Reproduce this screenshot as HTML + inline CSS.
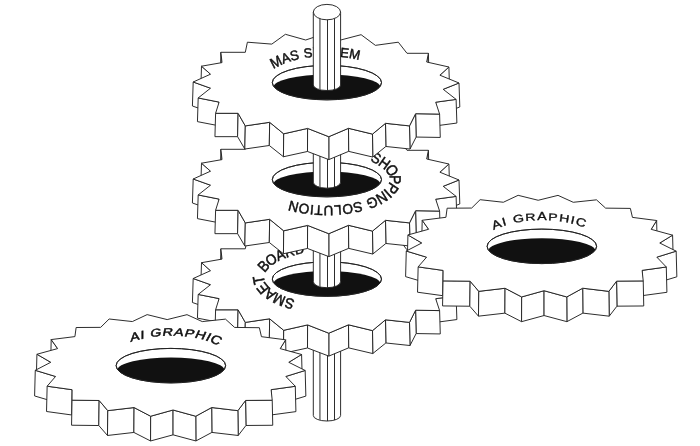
<!DOCTYPE html>
<html><head><meta charset="utf-8"><title>Gears</title>
<style>html,body{margin:0;padding:0;background:#fff;}body{width:700px;height:446px;overflow:hidden;font-family:"Liberation Sans",sans-serif;}svg{display:block;}</style>
</head><body>
<svg width="700" height="446" viewBox="0 0 700 446" fill="#fff" stroke="#222" stroke-width="0.95" stroke-linejoin="miter" stroke-miterlimit="4">
<path d="M 313.30 300.00 L 313.30 415.50 A 13.65 5.50 0 0 0 340.60 415.50 L 340.60 300.00 Z"/>
<line x1="319.91" y1="300.00" x2="319.91" y2="420.21" stroke="#777" stroke-width="1.6"/>
<line x1="327.50" y1="300.00" x2="327.50" y2="421.00"/>
<line x1="334.51" y1="300.00" x2="334.51" y2="420.08"/>
<polygon points="222.00,259.10 220.90,248.80 220.27,273.39 221.38,283.48"/>
<polygon points="428.40,249.80 426.70,258.50 427.31,282.90 429.02,274.37"/>
<polygon points="210.50,270.70 201.50,262.70 200.76,287.01 209.81,294.85"/>
<polygon points="448.90,263.50 439.90,271.70 440.59,295.83 449.64,287.80"/>
<polygon points="210.50,284.70 193.20,278.50 192.41,302.50 209.81,308.57"/>
<polygon points="459.00,279.50 443.20,285.80 443.91,309.65 459.80,303.48"/>
<polygon points="219.10,298.60 198.20,294.45 197.44,318.13 218.46,322.19"/>
<polygon points="456.10,295.90 435.70,298.70 436.36,322.29 456.88,319.55"/>
<polygon points="238.10,309.80 215.60,309.80 214.94,333.17 237.58,333.17"/>
<polygon points="439.60,310.60 415.60,310.20 416.14,333.56 440.28,333.95"/>
<polygon points="245.30,322.40 238.10,309.80 237.58,333.17 244.82,345.52"/>
<polygon points="415.60,310.20 409.50,322.40 410.00,345.52 416.14,333.56"/>
<polygon points="269.65,318.80 245.30,322.40 244.82,345.52 269.31,341.99"/>
<polygon points="409.50,322.40 385.50,319.80 385.86,342.97 410.00,345.52"/>
<polygon points="283.70,330.30 269.65,318.80 269.31,341.99 283.45,353.26"/>
<polygon points="385.50,319.80 372.50,330.60 372.78,353.55 385.86,342.97"/>
<polygon points="307.60,324.90 283.70,330.30 283.45,353.26 307.49,347.97"/>
<polygon points="372.50,330.60 348.50,324.80 348.64,347.87 372.78,353.55"/>
<polygon points="348.50,324.80 328.80,333.20 328.82,356.10 348.64,347.87"/>
<polygon points="328.80,333.20 307.60,324.90 307.49,347.97 328.82,356.10"/>
<polygon points="328.80,333.20 307.60,324.90 283.70,330.30 269.65,318.80 245.30,322.40 238.10,309.80 215.60,309.80 219.10,298.60 198.20,294.45 210.50,284.70 193.20,278.50 210.50,270.70 201.50,262.70 222.00,259.10 220.90,248.80 245.30,248.80 247.40,238.70 271.80,240.60 285.40,230.80 305.70,236.50 323.10,230.70 341.10,236.40 361.10,231.20 375.40,241.85 398.30,238.70 407.00,249.80 428.40,249.80 426.70,258.50 448.90,263.50 439.90,271.70 459.00,279.50 443.20,285.80 456.10,295.90 435.70,298.70 439.60,310.60 415.60,310.20 409.50,322.40 385.50,319.80 372.50,330.60 348.50,324.80"/>
<ellipse cx="326.90" cy="279.09" rx="54.60" ry="17.25"/>
<clipPath id="c3"><ellipse cx="326.90" cy="279.09" rx="54.60" ry="17.25"/></clipPath>
<ellipse cx="326.90" cy="283.64" rx="53.50" ry="12.70" fill="#111" stroke="none" clip-path="url(#c3)"/>
<ellipse cx="326.90" cy="279.09" rx="54.60" ry="17.25" fill="none"/>
<g style="filter:grayscale(1)">
<text y="4.65" transform="translate(289.37,303.61) rotate(-163.44) skewX(0.00) scale(1.051,1.108)" text-anchor="middle" font-family="Liberation Sans, sans-serif" font-size="13.00" fill="#111" stroke="#111" stroke-width="0.45">S</text>
<text y="4.65" transform="translate(279.20,299.91) rotate(-156.23) skewX(0.00) scale(1.058,1.143)" text-anchor="middle" font-family="Liberation Sans, sans-serif" font-size="13.00" fill="#111" stroke="#111" stroke-width="0.45">M</text>
<text y="4.65" transform="translate(269.76,294.75) rotate(-145.53) skewX(0.00) scale(1.064,1.181)" text-anchor="middle" font-family="Liberation Sans, sans-serif" font-size="13.00" fill="#111" stroke="#111" stroke-width="0.45">A</text>
<text y="4.65" transform="translate(262.64,288.37) rotate(-129.13) skewX(0.00) scale(1.067,1.211)" text-anchor="middle" font-family="Liberation Sans, sans-serif" font-size="13.00" fill="#111" stroke="#111" stroke-width="0.45">E</text>
<text y="4.65" transform="translate(258.65,280.25) rotate(-100.75) skewX(0.00) scale(1.063,1.223)" text-anchor="middle" font-family="Liberation Sans, sans-serif" font-size="13.00" fill="#111" stroke="#111" stroke-width="0.45">T</text>
<text y="4.65" transform="translate(263.37,265.96) rotate(-48.37) skewX(0.00) scale(1.052,1.189)" text-anchor="middle" font-family="Liberation Sans, sans-serif" font-size="13.00" fill="#111" stroke="#111" stroke-width="0.45">B</text>
<text y="4.65" transform="translate(271.16,259.52) rotate(-32.45) skewX(0.00) scale(1.040,1.146)" text-anchor="middle" font-family="Liberation Sans, sans-serif" font-size="13.00" fill="#111" stroke="#111" stroke-width="0.45">O</text>
<text y="4.65" transform="translate(280.15,254.86) rotate(-22.96) skewX(0.00) scale(1.028,1.102)" text-anchor="middle" font-family="Liberation Sans, sans-serif" font-size="13.00" fill="#111" stroke="#111" stroke-width="0.45">A</text>
<text y="4.65" transform="translate(289.36,251.58) rotate(-16.56) skewX(0.00) scale(1.018,1.066)" text-anchor="middle" font-family="Liberation Sans, sans-serif" font-size="13.00" fill="#111" stroke="#111" stroke-width="0.45">R</text>
<text y="4.65" transform="translate(299.20,249.15) rotate(-11.36) skewX(0.00) scale(1.010,1.036)" text-anchor="middle" font-family="Liberation Sans, sans-serif" font-size="13.00" fill="#111" stroke="#111" stroke-width="0.45">D</text>
</g>

<path d="M 313.30 200.00 L 313.30 281.70 A 13.65 6.00 0 0 0 340.60 281.70 L 340.60 200.00 Z"/>
<line x1="319.91" y1="200.00" x2="319.91" y2="286.84" stroke="#777" stroke-width="1.6"/>
<line x1="327.50" y1="200.00" x2="327.50" y2="287.70"/>
<line x1="334.51" y1="200.00" x2="334.51" y2="286.70"/>
<polygon points="57.61,348.58 51.20,339.57 50.61,365.83 57.05,374.65"/>
<polygon points="285.64,339.80 280.20,348.63 280.75,374.71 286.21,366.05"/>
<polygon points="50.76,362.29 36.93,354.26 36.26,380.22 50.16,388.09"/>
<polygon points="301.59,354.47 288.78,362.31 289.38,388.11 302.25,380.42"/>
<polygon points="55.56,376.48 35.28,370.32 34.60,395.95 54.99,402.00"/>
<polygon points="305.17,370.47 285.85,376.45 286.43,401.97 305.85,396.11"/>
<polygon points="72.11,389.71 47.15,386.19 46.53,411.51 71.62,414.96"/>
<polygon points="295.29,386.29 271.11,389.65 271.61,414.90 295.91,411.61"/>
<polygon points="272.22,400.22 245.58,400.43 245.96,425.47 272.74,425.27"/>
<polygon points="99.15,400.49 72.04,400.18 71.55,425.23 98.80,425.53"/>
<polygon points="245.58,400.43 237.88,410.65 238.22,435.48 245.96,425.47"/>
<polygon points="107.79,410.64 99.15,400.49 98.80,425.53 107.48,435.47"/>
<polygon points="237.88,410.65 211.68,407.51 211.89,432.41 238.22,435.48"/>
<polygon points="134.07,407.55 107.79,410.64 107.48,435.47 133.89,432.45"/>
<polygon points="211.68,407.51 195.78,416.23 195.91,440.96 211.89,432.41"/>
<polygon points="150.66,416.23 134.07,407.55 133.89,432.45 150.57,440.96"/>
<polygon points="173.06,409.99 150.66,416.23 150.57,440.96 173.07,434.84"/>
<polygon points="195.78,416.23 173.06,409.99 173.07,434.84 195.91,440.96"/>
<polygon points="150.66,416.23 134.07,407.55 107.79,410.64 99.15,400.49 72.04,400.18 72.11,389.71 47.15,386.19 55.56,376.48 35.28,370.32 50.76,362.29 36.93,354.26 57.61,348.58 51.20,339.57 74.91,336.60 76.14,327.51 100.66,327.36 109.12,318.99 132.35,321.55 147.14,314.62 167.19,319.58 187.00,314.67 202.25,321.59 225.48,319.13 234.61,327.43 259.37,327.71 261.45,336.68 285.64,339.80 280.20,348.63 301.59,354.47 288.78,362.31 305.17,370.47 285.85,376.45 295.29,386.29 271.11,389.65 272.22,400.22 245.58,400.43 237.88,410.65 211.68,407.51 195.78,416.23 173.06,409.99"/>
<ellipse cx="170.86" cy="365.65" rx="54.75" ry="17.25"/>
<clipPath id="c5"><ellipse cx="170.86" cy="365.65" rx="54.75" ry="17.25"/></clipPath>
<ellipse cx="170.86" cy="370.20" rx="53.60" ry="12.70" fill="#111" stroke="none" clip-path="url(#c5)"/>
<ellipse cx="170.86" cy="365.65" rx="54.75" ry="17.25" fill="none"/>
<g style="filter:grayscale(1)">
<text y="4.65" transform="translate(134.70,336.43) rotate(-15.77) skewX(-12.00) scale(1.102,0.908)" text-anchor="middle" font-family="Liberation Sans, sans-serif" font-size="13.00" fill="#111" stroke="#111" stroke-width="0.55">A</text>
<text y="4.65" transform="translate(142.35,334.57) rotate(-11.73) skewX(-12.00) scale(1.101,0.874)" text-anchor="middle" font-family="Liberation Sans, sans-serif" font-size="13.00" fill="#111" stroke="#111" stroke-width="0.55">I</text>
<text y="4.65" transform="translate(156.06,332.48) rotate(-5.74) skewX(-12.00) scale(1.100,0.834)" text-anchor="middle" font-family="Liberation Sans, sans-serif" font-size="13.00" fill="#111" stroke="#111" stroke-width="0.55">G</text>
<text y="4.65" transform="translate(167.95,331.78) rotate(-1.10) skewX(-12.00) scale(1.100,0.821)" text-anchor="middle" font-family="Liberation Sans, sans-serif" font-size="13.00" fill="#111" stroke="#111" stroke-width="0.55">R</text>
<text y="4.65" transform="translate(179.09,331.98) rotate(3.13) skewX(-12.00) scale(1.100,0.824)" text-anchor="middle" font-family="Liberation Sans, sans-serif" font-size="13.00" fill="#111" stroke="#111" stroke-width="0.55">A</text>
<text y="4.65" transform="translate(189.77,332.96) rotate(7.43) skewX(-12.00) scale(1.101,0.844)" text-anchor="middle" font-family="Liberation Sans, sans-serif" font-size="13.00" fill="#111" stroke="#111" stroke-width="0.55">P</text>
<text y="4.65" transform="translate(200.68,334.85) rotate(12.39) skewX(-12.00) scale(1.101,0.880)" text-anchor="middle" font-family="Liberation Sans, sans-serif" font-size="13.00" fill="#111" stroke="#111" stroke-width="0.55">H</text>
<text y="4.65" transform="translate(208.69,336.92) rotate(16.74) skewX(-12.00) scale(1.102,0.917)" text-anchor="middle" font-family="Liberation Sans, sans-serif" font-size="13.00" fill="#111" stroke="#111" stroke-width="0.55">I</text>
<text y="4.65" transform="translate(216.42,339.63) rotate(22.01) skewX(-12.00) scale(1.101,0.963)" text-anchor="middle" font-family="Liberation Sans, sans-serif" font-size="13.00" fill="#111" stroke="#111" stroke-width="0.55">C</text>
</g>

<polygon points="222.00,159.60 220.90,149.30 220.27,173.89 221.38,183.98"/>
<polygon points="428.40,150.30 426.70,159.00 427.31,183.40 429.02,174.87"/>
<polygon points="210.50,171.20 201.50,163.20 200.76,187.51 209.81,195.35"/>
<polygon points="448.90,164.00 439.90,172.20 440.59,196.33 449.64,188.30"/>
<polygon points="210.50,185.20 193.20,179.00 192.41,203.00 209.81,209.07"/>
<polygon points="459.00,180.00 443.20,186.30 443.91,210.15 459.80,203.98"/>
<polygon points="219.10,199.10 198.20,194.95 197.44,218.63 218.46,222.69"/>
<polygon points="456.10,196.40 435.70,199.20 436.36,222.79 456.88,220.05"/>
<polygon points="238.10,210.30 215.60,210.30 214.94,233.67 237.58,233.67"/>
<polygon points="439.60,211.10 415.60,210.70 416.14,234.06 440.28,234.45"/>
<polygon points="245.30,222.90 238.10,210.30 237.58,233.67 244.82,246.02"/>
<polygon points="415.60,210.70 409.50,222.90 410.00,246.02 416.14,234.06"/>
<polygon points="269.65,219.30 245.30,222.90 244.82,246.02 269.31,242.49"/>
<polygon points="409.50,222.90 385.50,220.30 385.86,243.47 410.00,246.02"/>
<polygon points="283.70,230.80 269.65,219.30 269.31,242.49 283.45,253.76"/>
<polygon points="385.50,220.30 372.50,231.10 372.78,254.05 385.86,243.47"/>
<polygon points="307.60,225.40 283.70,230.80 283.45,253.76 307.49,248.47"/>
<polygon points="372.50,231.10 348.50,225.30 348.64,248.37 372.78,254.05"/>
<polygon points="348.50,225.30 328.80,233.70 328.82,256.60 348.64,248.37"/>
<polygon points="328.80,233.70 307.60,225.40 307.49,248.47 328.82,256.60"/>
<polygon points="328.80,233.70 307.60,225.40 283.70,230.80 269.65,219.30 245.30,222.90 238.10,210.30 215.60,210.30 219.10,199.10 198.20,194.95 210.50,185.20 193.20,179.00 210.50,171.20 201.50,163.20 222.00,159.60 220.90,149.30 245.30,149.30 247.40,139.20 271.80,141.10 285.40,131.30 305.70,137.00 323.10,131.20 341.10,136.90 361.10,131.70 375.40,142.35 398.30,139.20 407.00,150.30 428.40,150.30 426.70,159.00 448.90,164.00 439.90,172.20 459.00,180.00 443.20,186.30 456.10,196.40 435.70,199.20 439.60,211.10 415.60,210.70 409.50,222.90 385.50,220.30 372.50,231.10 348.50,225.30"/>
<ellipse cx="326.90" cy="179.59" rx="54.60" ry="17.25"/>
<clipPath id="c2"><ellipse cx="326.90" cy="179.59" rx="54.60" ry="17.25"/></clipPath>
<ellipse cx="326.90" cy="184.14" rx="53.50" ry="12.70" fill="#111" stroke="none" clip-path="url(#c2)"/>
<ellipse cx="326.90" cy="179.59" rx="54.60" ry="17.25" fill="none"/>
<g style="filter:grayscale(1)">
<text y="4.65" transform="translate(376.26,158.03) rotate(25.28) skewX(0.00) scale(1.031,1.114)" text-anchor="middle" font-family="Liberation Sans, sans-serif" font-size="13.00" fill="#111" stroke="#111" stroke-width="0.45">S</text>
<text y="4.65" transform="translate(384.72,162.91) rotate(35.55) skewX(0.00) scale(1.043,1.157)" text-anchor="middle" font-family="Liberation Sans, sans-serif" font-size="13.00" fill="#111" stroke="#111" stroke-width="0.45">H</text>
<text y="4.65" transform="translate(392.21,170.20) rotate(55.10) skewX(0.00) scale(1.055,1.200)" text-anchor="middle" font-family="Liberation Sans, sans-serif" font-size="13.00" fill="#111" stroke="#111" stroke-width="0.45">O</text>
<text y="4.65" transform="translate(395.40,179.66) rotate(90.28) skewX(0.00) scale(1.060,1.220)" text-anchor="middle" font-family="Liberation Sans, sans-serif" font-size="13.00" fill="#111" stroke="#111" stroke-width="0.45">P</text>
<text y="4.65" transform="translate(392.50,188.54) rotate(123.50) skewX(0.00) scale(1.067,1.216)" text-anchor="middle" font-family="Liberation Sans, sans-serif" font-size="13.00" fill="#111" stroke="#111" stroke-width="0.45">P</text>
<text y="4.65" transform="translate(387.89,193.75) rotate(138.39) skewX(0.00) scale(1.066,1.197)" text-anchor="middle" font-family="Liberation Sans, sans-serif" font-size="13.00" fill="#111" stroke="#111" stroke-width="0.45">I</text>
<text y="4.65" transform="translate(381.92,198.12) rotate(148.54) skewX(0.00) scale(1.063,1.172)" text-anchor="middle" font-family="Liberation Sans, sans-serif" font-size="13.00" fill="#111" stroke="#111" stroke-width="0.45">N</text>
<text y="4.65" transform="translate(372.26,202.89) rotate(158.13) skewX(0.00) scale(1.056,1.134)" text-anchor="middle" font-family="Liberation Sans, sans-serif" font-size="13.00" fill="#111" stroke="#111" stroke-width="0.45">G</text>
<text y="4.65" transform="translate(357.96,207.31) rotate(166.99) skewX(0.00) scale(1.048,1.090)" text-anchor="middle" font-family="Liberation Sans, sans-serif" font-size="13.00" fill="#111" stroke="#111" stroke-width="0.45">S</text>
<text y="4.65" transform="translate(347.63,209.23) rotate(171.79) skewX(0.00) scale(1.044,1.068)" text-anchor="middle" font-family="Liberation Sans, sans-serif" font-size="13.00" fill="#111" stroke="#111" stroke-width="0.45">O</text>
<text y="4.65" transform="translate(337.90,210.29) rotate(175.78) skewX(0.00) scale(1.041,1.055)" text-anchor="middle" font-family="Liberation Sans, sans-serif" font-size="13.00" fill="#111" stroke="#111" stroke-width="0.45">L</text>
<text y="4.65" transform="translate(328.50,210.68) rotate(179.40) skewX(0.00) scale(1.040,1.050)" text-anchor="middle" font-family="Liberation Sans, sans-serif" font-size="13.00" fill="#111" stroke="#111" stroke-width="0.45">U</text>
<text y="4.65" transform="translate(318.71,210.47) rotate(-176.87) skewX(0.00) scale(1.041,1.053)" text-anchor="middle" font-family="Liberation Sans, sans-serif" font-size="13.00" fill="#111" stroke="#111" stroke-width="0.45">T</text>
<text y="4.65" transform="translate(311.95,209.94) rotate(-174.19) skewX(0.00) scale(1.042,1.059)" text-anchor="middle" font-family="Liberation Sans, sans-serif" font-size="13.00" fill="#111" stroke="#111" stroke-width="0.45">I</text>
<text y="4.65" transform="translate(304.11,208.92) rotate(-170.90) skewX(0.00) scale(1.044,1.072)" text-anchor="middle" font-family="Liberation Sans, sans-serif" font-size="13.00" fill="#111" stroke="#111" stroke-width="0.45">O</text>
<text y="4.65" transform="translate(293.45,206.73) rotate(-165.75) skewX(0.00) scale(1.049,1.096)" text-anchor="middle" font-family="Liberation Sans, sans-serif" font-size="13.00" fill="#111" stroke="#111" stroke-width="0.45">N</text>
</g>

<path d="M 313.30 105.00 L 313.30 182.20 A 13.65 6.00 0 0 0 340.60 182.20 L 340.60 105.00 Z"/>
<line x1="319.91" y1="105.00" x2="319.91" y2="187.34" stroke="#777" stroke-width="1.6"/>
<line x1="327.50" y1="105.00" x2="327.50" y2="188.20"/>
<line x1="334.51" y1="105.00" x2="334.51" y2="187.20"/>
<polygon points="428.61,229.28 422.20,220.27 421.61,246.53 428.05,255.35"/>
<polygon points="656.64,220.50 651.20,229.33 651.75,255.41 657.21,246.75"/>
<polygon points="421.76,242.99 407.93,234.96 407.26,260.92 421.16,268.79"/>
<polygon points="672.59,235.17 659.78,243.01 660.38,268.81 673.25,261.12"/>
<polygon points="426.56,257.18 406.28,251.02 405.60,276.65 425.99,282.70"/>
<polygon points="676.17,251.17 656.85,257.15 657.43,282.67 676.85,276.81"/>
<polygon points="443.11,270.41 418.15,266.89 417.53,292.21 442.62,295.66"/>
<polygon points="666.29,266.99 642.11,270.35 642.61,295.60 666.91,292.31"/>
<polygon points="643.22,280.92 616.58,281.13 616.96,306.17 643.74,305.97"/>
<polygon points="470.15,281.19 443.04,280.88 442.55,305.93 469.80,306.23"/>
<polygon points="616.58,281.13 608.88,291.35 609.22,316.18 616.96,306.17"/>
<polygon points="478.79,291.34 470.15,281.19 469.80,306.23 478.48,316.17"/>
<polygon points="608.88,291.35 582.68,288.21 582.89,313.11 609.22,316.18"/>
<polygon points="505.07,288.25 478.79,291.34 478.48,316.17 504.89,313.15"/>
<polygon points="582.68,288.21 566.78,296.93 566.91,321.66 582.89,313.11"/>
<polygon points="521.66,296.93 505.07,288.25 504.89,313.15 521.57,321.66"/>
<polygon points="544.06,290.69 521.66,296.93 521.57,321.66 544.07,315.54"/>
<polygon points="566.78,296.93 544.06,290.69 544.07,315.54 566.91,321.66"/>
<polygon points="521.66,296.93 505.07,288.25 478.79,291.34 470.15,281.19 443.04,280.88 443.11,270.41 418.15,266.89 426.56,257.18 406.28,251.02 421.76,242.99 407.93,234.96 428.61,229.28 422.20,220.27 445.91,217.30 447.14,208.21 471.66,208.06 480.12,199.69 503.35,202.25 518.14,195.32 538.19,200.28 558.00,195.37 573.25,202.29 596.48,199.83 605.61,208.13 630.37,208.41 632.45,217.38 656.64,220.50 651.20,229.33 672.59,235.17 659.78,243.01 676.17,251.17 656.85,257.15 666.29,266.99 642.11,270.35 643.22,280.92 616.58,281.13 608.88,291.35 582.68,288.21 566.78,296.93 544.06,290.69"/>
<ellipse cx="541.86" cy="246.35" rx="54.75" ry="17.25"/>
<clipPath id="c4"><ellipse cx="541.86" cy="246.35" rx="54.75" ry="17.25"/></clipPath>
<ellipse cx="541.86" cy="250.90" rx="53.60" ry="12.70" fill="#111" stroke="none" clip-path="url(#c4)"/>
<ellipse cx="541.86" cy="246.35" rx="54.75" ry="17.25" fill="none"/>
<g style="filter:grayscale(1)">
<text y="4.65" transform="translate(496.35,224.15) rotate(-21.07) skewX(0.00) scale(1.094,0.925)" text-anchor="middle" font-family="Liberation Sans, sans-serif" font-size="13.00" fill="#111" stroke="#111" stroke-width="0.38">A</text>
<text y="4.65" transform="translate(504.10,221.57) rotate(-16.00) skewX(0.00) scale(1.093,0.875)" text-anchor="middle" font-family="Liberation Sans, sans-serif" font-size="13.00" fill="#111" stroke="#111" stroke-width="0.38">I</text>
<text y="4.65" transform="translate(518.31,218.46) rotate(-9.03) skewX(0.00) scale(1.092,0.810)" text-anchor="middle" font-family="Liberation Sans, sans-serif" font-size="13.00" fill="#111" stroke="#111" stroke-width="0.38">G</text>
<text y="4.65" transform="translate(530.45,217.06) rotate(-4.18) skewX(0.00) scale(1.090,0.779)" text-anchor="middle" font-family="Liberation Sans, sans-serif" font-size="13.00" fill="#111" stroke="#111" stroke-width="0.38">R</text>
<text y="4.65" transform="translate(541.91,216.65) rotate(0.01) skewX(0.00) scale(1.090,0.770)" text-anchor="middle" font-family="Liberation Sans, sans-serif" font-size="13.00" fill="#111" stroke="#111" stroke-width="0.38">A</text>
<text y="4.65" transform="translate(552.98,217.04) rotate(4.07) skewX(0.00) scale(1.090,0.779)" text-anchor="middle" font-family="Liberation Sans, sans-serif" font-size="13.00" fill="#111" stroke="#111" stroke-width="0.38">P</text>
<text y="4.65" transform="translate(564.35,218.30) rotate(8.57) skewX(0.00) scale(1.091,0.807)" text-anchor="middle" font-family="Liberation Sans, sans-serif" font-size="13.00" fill="#111" stroke="#111" stroke-width="0.38">H</text>
<text y="4.65" transform="translate(572.88,219.87) rotate(12.42) skewX(0.00) scale(1.093,0.840)" text-anchor="middle" font-family="Liberation Sans, sans-serif" font-size="13.00" fill="#111" stroke="#111" stroke-width="0.38">I</text>
<text y="4.65" transform="translate(581.21,222.04) rotate(16.93) skewX(0.00) scale(1.093,0.885)" text-anchor="middle" font-family="Liberation Sans, sans-serif" font-size="13.00" fill="#111" stroke="#111" stroke-width="0.38">C</text>
</g>

<polygon points="222.00,62.60 220.90,52.30 220.27,76.89 221.38,86.98"/>
<polygon points="428.40,53.30 426.70,62.00 427.31,86.40 429.02,77.87"/>
<polygon points="210.50,74.20 201.50,66.20 200.76,90.51 209.81,98.35"/>
<polygon points="448.90,67.00 439.90,75.20 440.59,99.33 449.64,91.30"/>
<polygon points="210.50,88.20 193.20,82.00 192.41,106.00 209.81,112.07"/>
<polygon points="459.00,83.00 443.20,89.30 443.91,113.15 459.80,106.98"/>
<polygon points="219.10,102.10 198.20,97.95 197.44,121.63 218.46,125.69"/>
<polygon points="456.10,99.40 435.70,102.20 436.36,125.79 456.88,123.05"/>
<polygon points="238.10,113.30 215.60,113.30 214.94,136.67 237.58,136.67"/>
<polygon points="439.60,114.10 415.60,113.70 416.14,137.06 440.28,137.45"/>
<polygon points="245.30,125.90 238.10,113.30 237.58,136.67 244.82,149.02"/>
<polygon points="415.60,113.70 409.50,125.90 410.00,149.02 416.14,137.06"/>
<polygon points="269.65,122.30 245.30,125.90 244.82,149.02 269.31,145.49"/>
<polygon points="409.50,125.90 385.50,123.30 385.86,146.47 410.00,149.02"/>
<polygon points="283.70,133.80 269.65,122.30 269.31,145.49 283.45,156.76"/>
<polygon points="385.50,123.30 372.50,134.10 372.78,157.05 385.86,146.47"/>
<polygon points="307.60,128.40 283.70,133.80 283.45,156.76 307.49,151.47"/>
<polygon points="372.50,134.10 348.50,128.30 348.64,151.37 372.78,157.05"/>
<polygon points="348.50,128.30 328.80,136.70 328.82,159.60 348.64,151.37"/>
<polygon points="328.80,136.70 307.60,128.40 307.49,151.47 328.82,159.60"/>
<polygon points="328.80,136.70 307.60,128.40 283.70,133.80 269.65,122.30 245.30,125.90 238.10,113.30 215.60,113.30 219.10,102.10 198.20,97.95 210.50,88.20 193.20,82.00 210.50,74.20 201.50,66.20 222.00,62.60 220.90,52.30 245.30,52.30 247.40,42.20 271.80,44.10 285.40,34.30 305.70,40.00 323.10,34.20 341.10,39.90 361.10,34.70 375.40,45.35 398.30,42.20 407.00,53.30 428.40,53.30 426.70,62.00 448.90,67.00 439.90,75.20 459.00,83.00 443.20,89.30 456.10,99.40 435.70,102.20 439.60,114.10 415.60,113.70 409.50,125.90 385.50,123.30 372.50,134.10 348.50,128.30"/>
<ellipse cx="326.90" cy="82.59" rx="54.60" ry="17.25"/>
<clipPath id="c1"><ellipse cx="326.90" cy="82.59" rx="54.60" ry="17.25"/></clipPath>
<ellipse cx="326.90" cy="87.14" rx="53.50" ry="12.70" fill="#111" stroke="none" clip-path="url(#c1)"/>
<ellipse cx="326.90" cy="82.59" rx="54.60" ry="17.25" fill="none"/>
<g style="filter:grayscale(1)">
<text y="4.65" transform="translate(275.84,61.86) rotate(-26.90) skewX(0.00) scale(1.033,1.122)" text-anchor="middle" font-family="Liberation Sans, sans-serif" font-size="13.00" fill="#111" stroke="#111" stroke-width="0.45">M</text>
<text y="4.65" transform="translate(285.47,57.82) rotate(-19.03) skewX(0.00) scale(1.022,1.080)" text-anchor="middle" font-family="Liberation Sans, sans-serif" font-size="13.00" fill="#111" stroke="#111" stroke-width="0.45">A</text>
<text y="4.65" transform="translate(294.46,55.20) rotate(-13.72) skewX(0.00) scale(1.013,1.049)" text-anchor="middle" font-family="Liberation Sans, sans-serif" font-size="13.00" fill="#111" stroke="#111" stroke-width="0.45">S</text>
<text y="4.65" transform="translate(307.91,52.71) rotate(-7.45) skewX(0.00) scale(1.005,1.017)" text-anchor="middle" font-family="Liberation Sans, sans-serif" font-size="13.00" fill="#111" stroke="#111" stroke-width="0.45">S</text>
<text y="4.65" transform="translate(317.24,51.80) rotate(-3.71) skewX(0.00) scale(1.001,1.004)" text-anchor="middle" font-family="Liberation Sans, sans-serif" font-size="13.00" fill="#111" stroke="#111" stroke-width="0.45">Y</text>
<text y="4.65" transform="translate(326.60,51.49) rotate(-0.10) skewX(0.00) scale(1.000,1.000)" text-anchor="middle" font-family="Liberation Sans, sans-serif" font-size="13.00" fill="#111" stroke="#111" stroke-width="0.45">S</text>
<text y="4.65" transform="translate(335.60,51.74) rotate(3.34) skewX(0.00) scale(1.001,1.004)" text-anchor="middle" font-family="Liberation Sans, sans-serif" font-size="13.00" fill="#111" stroke="#111" stroke-width="0.45">T</text>
<text y="4.65" transform="translate(344.57,52.54) rotate(6.92) skewX(0.00) scale(1.004,1.015)" text-anchor="middle" font-family="Liberation Sans, sans-serif" font-size="13.00" fill="#111" stroke="#111" stroke-width="0.45">E</text>
<text y="4.65" transform="translate(354.89,54.20) rotate(11.49) skewX(0.00) scale(1.010,1.037)" text-anchor="middle" font-family="Liberation Sans, sans-serif" font-size="13.00" fill="#111" stroke="#111" stroke-width="0.45">M</text>
</g>

<path d="M 313.30 12.10 L 313.30 85.00 A 13.65 5.50 0 0 0 340.60 85.00 L 340.60 12.10 Z"/>
<line x1="319.91" y1="18.70" x2="319.91" y2="89.71" stroke="#777" stroke-width="1.6"/>
<line x1="327.50" y1="19.79" x2="327.50" y2="90.50"/>
<line x1="334.51" y1="18.51" x2="334.51" y2="89.58"/>
<ellipse cx="326.95" cy="12.10" rx="13.65" ry="7.70"/>
</svg>
</body></html>
